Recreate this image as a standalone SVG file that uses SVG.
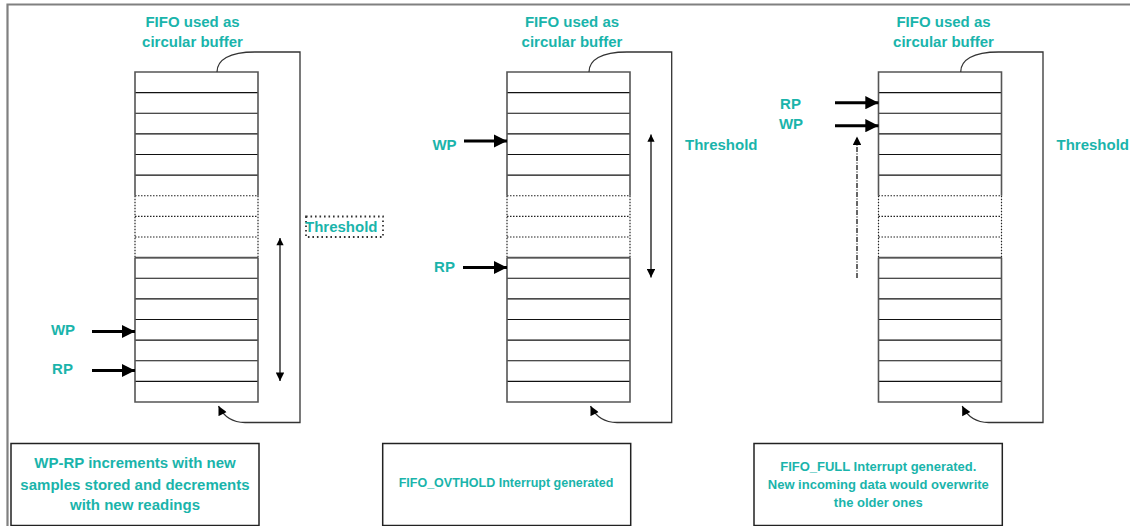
<svg xmlns="http://www.w3.org/2000/svg" width="1130" height="526" viewBox="0 0 1130 526">
<style>
.t{font-family:"Liberation Sans",Arial,sans-serif;font-weight:bold;fill:#1AB4AB}
.frame{fill:none;stroke:#808080;stroke-width:2.2}
.cell{fill:none;stroke:#111;stroke-width:1.2}
.edge{fill:none;stroke:#555;stroke-width:1.6}
.dot{fill:none;stroke:#222;stroke-width:1.2;stroke-dasharray:1.5 1.5}
.tdot{fill:none;stroke:#333;stroke-width:1.8;stroke-dasharray:1.6 2.9}
.loop{fill:none;stroke:#333;stroke-width:1.3}
.ptr{stroke:#000;stroke-width:3;fill:none}
.thin{stroke:#000;stroke-width:1.2;fill:none}
.box{fill:#fff;stroke:#222;stroke-width:1.5}
</style>
<defs>
<marker id="big" viewBox="0 0 10 10" refX="10" refY="5" markerWidth="4.6" markerHeight="4.4" markerUnits="strokeWidth" orient="auto"><path d="M0,0 L10,5 L0,10 Z" fill="#000"/></marker>
<marker id="sm" viewBox="0 0 10 10" refX="10" refY="5" markerWidth="8" markerHeight="7" markerUnits="strokeWidth" orient="auto"><path d="M0,0 L10,5 L0,10 Z" fill="#000"/></marker>
<marker id="smr" viewBox="0 0 10 10" refX="0" refY="5" markerWidth="7" markerHeight="6" markerUnits="strokeWidth" orient="auto"><path d="M10,0 L0,5 L10,10 Z" fill="#000"/></marker>
<g id="fifo">
<path class="cell" d="M0,20.6H123M0,41.25H123M0,61.9H123M0,82.5H123M0,103.1H123M0,185.6H123M0,206.25H123M0,226.9H123M0,247.5H123M0,268.1H123M0,288.75H123M0,309.4H123"/>
<path class="dot" d="M0,123.75H123M0,144.4H123M0,165H123M0,123.75V185.6M123,123.75V185.6"/>
<path class="edge" d="M0,123.75V0H123V123.75M0,185.6V330H123V185.6M0,185.6H123"/>
</g>
</defs>
<g id="frame"><path class="frame" d="M7.5,526V4.5H1130"/></g>

<g id="buffer1">
<use href="#fifo" x="135" y="72"/>
<text class="t" x="192.5" y="26.5" font-size="15" text-anchor="middle">FIFO used as</text>
<text class="t" x="192.5" y="46.5" font-size="15" text-anchor="middle">circular buffer</text>
</g>
<g id="buffer2">
<use href="#fifo" x="507" y="72"/>
<text class="t" x="572" y="26.5" font-size="15" text-anchor="middle">FIFO used as</text>
<text class="t" x="572" y="46.5" font-size="15" text-anchor="middle">circular buffer</text>
</g>
<g id="buffer3">
<use href="#fifo" x="878.5" y="72"/>
<text class="t" x="943.5" y="26.5" font-size="15" text-anchor="middle">FIFO used as</text>
<text class="t" x="943.5" y="46.5" font-size="15" text-anchor="middle">circular buffer</text>
</g>

<g id="threshold1">
<rect x="306" y="216.5" width="77" height="20.5" class="tdot"/>
<text class="t" x="305" y="231.5" font-size="15">Threshold</text>
</g>
<g id="threshold2"><text class="t" x="685" y="150" font-size="15">Threshold</text></g>
<g id="threshold3"><text class="t" x="1056.5" y="150" font-size="15">Threshold</text></g>

<g id="labels">
<text class="t" x="63" y="335" font-size="15" text-anchor="middle">WP</text>
<text class="t" x="62.5" y="374" font-size="15" text-anchor="middle">RP</text>
<text class="t" x="444.5" y="150" font-size="15" text-anchor="middle">WP</text>
<text class="t" x="444.5" y="271.5" font-size="15" text-anchor="middle">RP</text>
<text class="t" x="790.5" y="109.3" font-size="15" text-anchor="middle">RP</text>
<text class="t" x="791" y="129.3" font-size="15" text-anchor="middle">WP</text>
</g>

<g id="connectors">
<path class="loop" d="M217,72 C217,60 229,52 255,52 H300 V422.5 H245 C233,422.5 224,417 218.5,406" marker-end="url(#sm)"/>
<path class="loop" d="M589,72 C589,60 601,52 627,52 H671.7 V422.5 H617 C605,422.5 596,417 590.5,406" marker-end="url(#sm)"/>
<path class="loop" d="M960.7,72 C960.7,60 972.7,52 998.7,52 H1043 V422.5 H988.7 C976.7,422.5 967.7,417 962.2,406" marker-end="url(#sm)"/>

<line class="ptr" x1="92" y1="331.5" x2="135" y2="331.5" marker-end="url(#big)"/>
<line class="ptr" x1="92" y1="370.5" x2="135" y2="370.5" marker-end="url(#big)"/>
<line class="ptr" x1="464" y1="141" x2="507" y2="141" marker-end="url(#big)"/>
<line class="ptr" x1="463" y1="267.5" x2="507" y2="267.5" marker-end="url(#big)"/>
<line class="ptr" x1="835" y1="102.7" x2="878.5" y2="102.7" marker-end="url(#big)"/>
<line class="ptr" x1="835" y1="125.7" x2="878.5" y2="125.7" marker-end="url(#big)"/>

<line class="thin" x1="280" y1="238" x2="280" y2="381" marker-start="url(#smr)" marker-end="url(#sm)"/>
<line class="thin" x1="651" y1="134.5" x2="651" y2="277.5" marker-start="url(#smr)" marker-end="url(#sm)"/>
<line class="thin" x1="857" y1="278" x2="857" y2="136.5" stroke-dasharray="5 1.5 1 1.5" marker-end="url(#sm)"/>
</g>

<g id="note1">
<rect class="box" x="11" y="443.5" width="248" height="82"/>
<text class="t" x="135" y="467.5" font-size="15" text-anchor="middle">WP-RP increments with new</text>
<text class="t" x="135" y="489.5" font-size="15" text-anchor="middle">samples stored and decrements</text>
<text class="t" x="135" y="510" font-size="15" text-anchor="middle">with new readings</text>
</g>
<g id="note2">
<rect class="box" x="382.7" y="443.5" width="248" height="82"/>
<text class="t" x="506" y="487.3" font-size="12.5" text-anchor="middle">FIFO_OVTHOLD Interrupt generated</text>
</g>
<g id="note3">
<rect class="box" x="754" y="443.5" width="248.3" height="82"/>
<text class="t" x="878.3" y="471" font-size="13" text-anchor="middle">FIFO_FULL Interrupt generated.</text>
<text class="t" x="878.3" y="489.3" font-size="13" text-anchor="middle">New incoming data would overwrite</text>
<text class="t" x="878.3" y="506.5" font-size="13" text-anchor="middle">the older ones</text>
</g>
</svg>
